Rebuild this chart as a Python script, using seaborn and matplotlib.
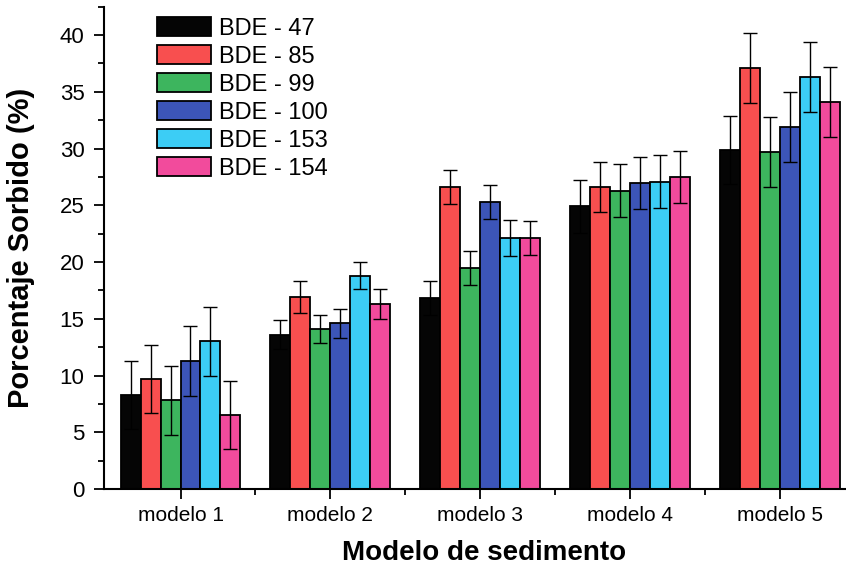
import numpy as np
import pandas as pd
import matplotlib
matplotlib.use("Agg")
import matplotlib.pyplot as plt
import seaborn as sns
from matplotlib.ticker import MultipleLocator

models = ["modelo 1", "modelo 2", "modelo 3", "modelo 4", "modelo 5"]
congeners = ["BDE - 47", "BDE - 85", "BDE - 99", "BDE - 100", "BDE - 153", "BDE - 154"]

bde47 = [8.3, 13.6, 16.8, 24.9, 29.9]
bde85 = [9.7, 16.9, 26.6, 26.6, 37.1]
bde99 = [7.8, 14.1, 19.5, 26.3, 29.7]
bde100 = [11.3, 14.6, 25.3, 27.0, 31.9]
bde153 = [13.0, 18.8, 22.1, 27.1, 36.3]
bde154 = [6.5, 16.3, 22.1, 27.5, 34.1]

err47 = [3.0, 1.3, 1.5, 2.3, 3.0]
err85 = [3.0, 1.4, 1.5, 2.2, 3.1]
err99 = [3.0, 1.2, 1.5, 2.3, 3.1]
err100 = [3.1, 1.3, 1.5, 2.3, 3.1]
err153 = [3.0, 1.2, 1.6, 2.3, 3.1]
err154 = [3.0, 1.3, 1.5, 2.3, 3.1]

colors = ["#050505", "#F84F4F", "#3DB55E", "#3C55B8", "#3CCDF5", "#F24B9C"]

values = [bde47, bde85, bde99, bde100, bde153, bde154]
errors = [err47, err85, err99, err100, err153, err154]

rows = []
for c, vals, errs in zip(congeners, values, errors):
    for m, v, e in zip(models, vals, errs):
        rows.append({"Modelo": m, "Congener": c, "Valor": v, "Err": e})
df = pd.DataFrame(rows)

sns.set_style("ticks")
plt.rcParams["font.family"] = ["Liberation Sans", "DejaVu Sans"]
plt.rcParams["text.color"] = "black"
plt.rcParams["axes.labelcolor"] = "black"
plt.rcParams["xtick.color"] = "black"
plt.rcParams["ytick.color"] = "black"
plt.rcParams["axes.edgecolor"] = "black"

fig = plt.figure(figsize=(8.46, 5.64), dpi=100)
ax = fig.add_axes([0.123, 0.133, 0.877, 0.855])

sns.barplot(data=df, x="Modelo", y="Valor", hue="Congener", order=models,
            hue_order=congeners, palette=colors, errorbar=None, width=0.8,
            edgecolor="black", linewidth=1.3, saturation=1, ax=ax, legend=True)

# error bars positioned on the bars seaborn drew
for k, c in enumerate(congeners):
    sub = df[df["Congener"] == c].set_index("Modelo").loc[models]
    cont = ax.containers[k]
    xs = [b.get_x() + b.get_width() / 2 for b in cont]
    ax.errorbar(xs, sub["Valor"].values, yerr=sub["Err"].values, fmt="none",
                ecolor="black", elinewidth=1.0, capsize=5, capthick=1.0, zorder=5)

ax.set_xlim(-0.51, 4.44)
ax.set_ylim(0, 42.5)
ax.yaxis.set_major_locator(MultipleLocator(5))
ax.yaxis.set_minor_locator(MultipleLocator(2.5))
ax.set_xticks(range(len(models)))
ax.set_xticks([0.5, 1.5, 2.5, 3.5], minor=True)
ax.tick_params(axis="both", which="major", direction="out", length=7, width=1.3,
               color="black", labelcolor="black")
ax.tick_params(axis="both", which="minor", direction="out", length=4, width=1.3,
               color="black")
ax.tick_params(axis="y", labelsize=16, pad=7)
ax.tick_params(axis="x", labelsize=15, pad=5)

for s in ["left", "bottom"]:
    ax.spines[s].set_linewidth(1.5)
    ax.spines[s].set_color("black")
sns.despine(ax=ax, top=True, right=True)

ax.set_ylabel("Porcentaje Sorbido (%)", fontsize=21, fontweight="bold", color="black")
ax.yaxis.set_label_coords(-0.093, 0.5)
ax.set_xlabel("Modelo de sedimento", fontsize=20, fontweight="bold", color="black")
ax.xaxis.set_label_coords(0.512, -0.105)

leg = ax.legend(loc="upper left", bbox_to_anchor=(0.0525, 1.008), frameon=False,
                fontsize=17, handlelength=2.3, handleheight=0.85,
                labelspacing=0.23, handletextpad=0.3, borderaxespad=0.2)
for t in leg.get_texts():
    t.set_color("black")

fig.savefig("out.png", dpi=100)
